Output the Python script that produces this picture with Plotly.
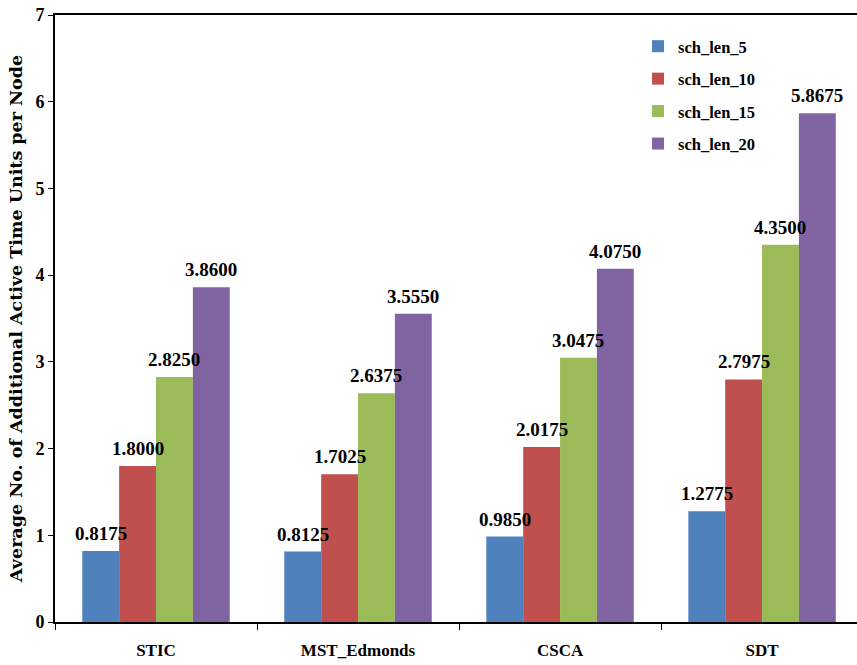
import plotly.graph_objects as go

# Scheduling algorithms compared
algorithms = ["STIC", "MST_Edmonds", "CSCA", "SDT"]

# Average additional active time units per node, one list per schedule length
sch_len_5 = [0.8175, 0.8125, 0.9850, 1.2775]
sch_len_10 = [1.8000, 1.7025, 2.0175, 2.7975]
sch_len_15 = [2.8250, 2.6375, 3.0475, 4.3500]
sch_len_20 = [3.8600, 3.5550, 4.0750, 5.8675]

series_names = ["sch_len_5", "sch_len_10", "sch_len_15", "sch_len_20"]
series_values = [sch_len_5, sch_len_10, sch_len_15, sch_len_20]
series_colors = ["#4F81BD", "#C0504D", "#9BBB59", "#8064A2"]

y_ticks = [0, 1, 2, 3, 4, 5, 6, 7]

FONT = "Liberation Serif, Times New Roman, serif"
BAR_GAP = 0.27

fig = go.Figure()
for name, vals, color in zip(series_names, series_values, series_colors):
    fig.add_trace(go.Bar(
        x=algorithms, y=vals, name=name, legendgroup=name,
        marker=dict(color=color, line=dict(width=0)),
    ))

# value labels above each bar
n = len(series_values)
bar_w = (1 - BAR_GAP) / n
for i, vals in enumerate(series_values):
    offset = (i - (n - 1) / 2) * bar_w
    for j, v in enumerate(vals):
        fig.add_annotation(
            x=j + offset, y=v, xref="x", yref="y",
            text=f"{v:.4f}", showarrow=False,
            yanchor="bottom", yshift=5,
            font=dict(family=FONT, size=19, color="black", weight="bold"),
        )

fig.update_layout(
    width=857, height=665,
    margin=dict(l=55, r=0, t=15, b=43),
    paper_bgcolor="white", plot_bgcolor="white",
    barmode="group", bargap=BAR_GAP, bargroupgap=0,
    font=dict(family=FONT, color="black"),
    showlegend=True,
    legend=dict(
        x=0.727, y=0.977, xanchor="left", yanchor="top",
        bgcolor="rgba(0,0,0,0)", tracegroupgap=8,
        font=dict(family=FONT, size=16.5, color="black", weight="bold"),
        itemwidth=30,
    ),
    xaxis=dict(
        range=[-0.5, 3.47],
        showline=True, linecolor="black", linewidth=2, mirror=True,
        ticks="outside", tickson="boundaries", ticklen=6, tickcolor="black",
        tickfont=dict(family=FONT, size=17, color="black", weight="bold"),
        ticklabelstandoff=12,
        showgrid=False,
    ),
    yaxis=dict(
        range=[0, 7], tickvals=y_ticks,
        showline=True, linecolor="black", linewidth=2,
        ticks="outside", ticklen=5, tickcolor="black",
        tickfont=dict(family=FONT, size=18, color="black", weight="bold"),
        showgrid=False, zeroline=False,
        title=dict(
            text="Average No. of Additional Active Time Units per Node",
            font=dict(family="DejaVu Serif", size=17.5, color="black", weight="bold"),
            standoff=8,
        ),
    ),
)

fig.write_html("out.html")
